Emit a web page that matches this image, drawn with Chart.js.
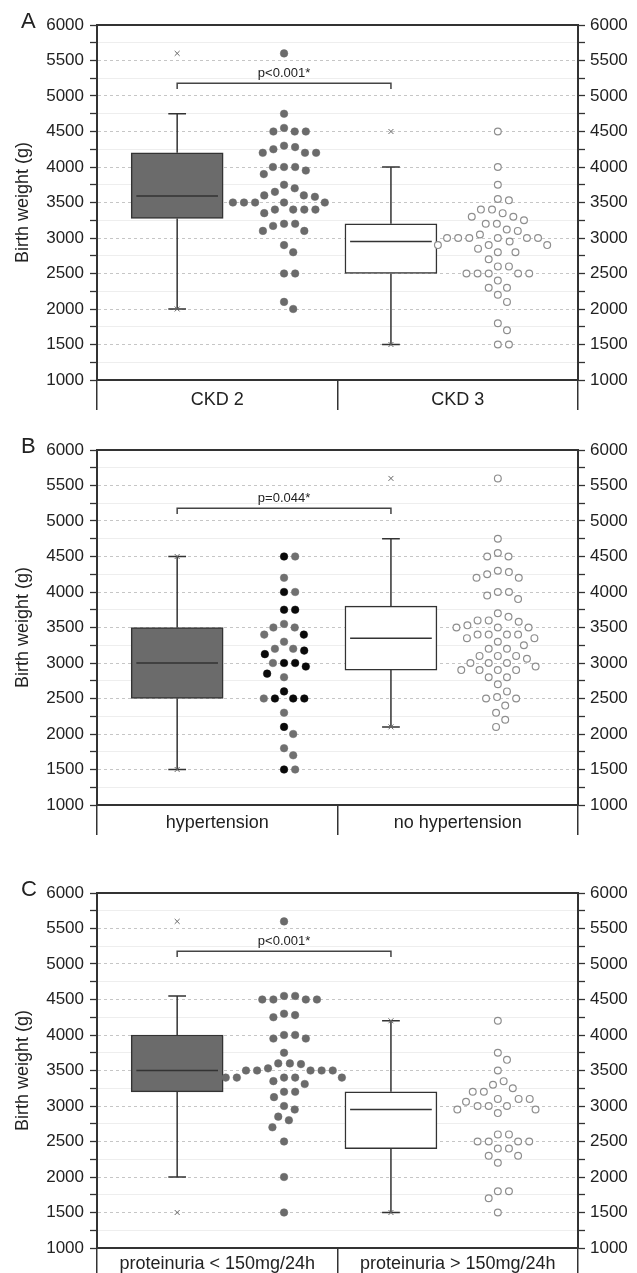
<!DOCTYPE html>
<html>
<head>
<meta charset="utf-8">
<script src="https://cdn.jsdelivr.net/npm/chart.js@4.4.0/dist/chart.umd.min.js"></script>
<style>
  html, body { margin: 0; padding: 0; background: #fff; }
  body { width: 637px; height: 1273px; position: relative; overflow: hidden; }
  canvas { position: absolute; left: 0; }
</style>
</head>
<body>
<canvas id="chartA" width="637" height="420" style="top:0"></canvas>
<canvas id="chartB" width="637" height="425" style="top:425px"></canvas>
<canvas id="chartC" width="637" height="414" style="top:866px"></canvas>
<script>
// ---- data ----
const yRange = [1000, 6000];
const yStep = 500;

// A: CKD stage
const categoriesA = ['CKD 2', 'CKD 3'];
const ckd2 = [5600, 4750, 4500, 4500, 4550, 4500, 4280, 4200, 4250, 4200, 4200, 4300,
  4000, 4000, 3900, 3950, 4000, 3650, 3500, 3400, 3400, 3580, 3350, 3500, 3600, 3500,
  3400, 3600, 3700, 3400, 3750, 3500, 3500, 3100, 3200, 3200, 3170, 3100, 2800, 2900,
  2500, 2500, 2000, 2100];
const ckd3 = [4500, 4000, 3750, 3550, 3530, 3350, 3400, 3400, 3200, 3200, 3300, 3300,
  3250, 3120, 3100, 3050, 3000, 3000, 3000, 3000, 3000, 3000, 2900, 2900, 2950, 2900,
  2850, 2800, 2800, 2700, 2600, 2600, 2500, 2500, 2500, 2500, 2500, 2400, 2300, 2300,
  2200, 2100, 1800, 1700, 1500, 1500];
// box: [lower whisker, Q1, median, Q3, upper whisker]
const ckd2Box = [2000, 3275, 3590, 4200, 4750];
const ckd3Box = [1500, 2500, 2950, 3200, 4000];
const ckd2MinMax = [2000, 5600];
const ckd3MinMax = [1500, 4500];
const pValueA = 'p<0.001*';

// B: hypertension
const categoriesB = ['hypertension', 'no hypertension'];
const hypertensionBlack = [4500, 4000, 3750, 3750, 3400, 3175, 3125, 3000, 3000, 2950,
  2850, 2600, 2500, 2500, 2500, 2100, 1500];
const hypertensionGray = [4500, 4200, 4000, 3550, 3500, 3500, 3400, 3300, 3200, 3200,
  3000, 2800, 2500, 2300, 2000, 1800, 1700, 1500];
const noHypertension = [5600, 4750, 4550, 4500, 4500, 4200, 4200, 4280, 4300, 4250,
  4000, 4000, 3950, 3900, 3700, 3600, 3650, 3600, 3580, 3530, 3500, 3500, 3500, 3400,
  3400, 3400, 3400, 3300, 3350, 3350, 3250, 3200, 3200, 3100, 3100, 3100, 3060, 3000,
  3000, 3000, 2900, 2900, 2950, 2900, 2900, 2800, 2800, 2700, 2600, 2500, 2520, 2500,
  2400, 2300, 2200, 2100];
const hypBox = [1500, 2500, 3000, 3500, 4500];
const noHypBox = [2100, 2900, 3350, 3800, 4750];
const hypMinMax = [1500, 4500];
const noHypMinMax = [2100, 5600];
const pValueB = 'p=0.044*';

// C: proteinuria
const categoriesC = ['proteinuria < 150mg/24h', 'proteinuria > 150mg/24h'];
const protLow = [5600, 4500, 4500, 4500, 4550, 4550, 4500, 4250, 4300, 4280, 4000, 4000,
  3950, 3950, 3750, 3600, 3600, 3590, 3500, 3500, 3500, 3500, 3500, 3530, 3400, 3350,
  3400, 3400, 3400, 3400, 3310, 3125, 3200, 3200, 3000, 2950, 2800, 2850, 2700, 2500,
  2000, 1500];
const protHigh = [4200, 3750, 3650, 3500, 3350, 3250, 3300, 3200, 3200, 3100, 3100, 3100,
  3060, 3000, 3000, 3000, 2950, 2950, 2900, 2600, 2600, 2500, 2500, 2500, 2500, 2400,
  2400, 2300, 2300, 2200, 1800, 1800, 1700, 1500];
const protLowBox = [2000, 3200, 3500, 4000, 4550];
const protHighBox = [1500, 2400, 2950, 3200, 4200];
const protLowMinMax = [1500, 5600];
const protHighMinMax = [1500, 4200];
const pValueC = 'p<0.001*';

// ---- styling ----
const FONT = '"Liberation Sans", Arial, Helvetica, sans-serif';
const INK = '#222';
const AXIS = '#333';
const DARK = '#6b6b6b';
const PX_PER_X = 481 / 4;      // plot width / x units
const PX_PER_G = 355 / 5000;   // plot height / gram range
const DOT_GAP = 12.5;
const CAP = 0.083, HALF = 0.382;

// simple beeswarm: offsets points sideways so they do not overlap
function swarm(values, centre) {
  const order = values.map((v, i) => i).sort((a, b) => values[b] - values[a]);
  const placed = [];
  const out = [];
  for (const i of order) {
    const py = values[i] * PX_PER_G;
    const near = placed.filter(p => Math.abs(p.y - py) < DOT_GAP);
    const cands = [0];
    near.forEach(p => {
      const dx = Math.sqrt(DOT_GAP * DOT_GAP - (p.y - py) ** 2);
      cands.push(p.x + dx, p.x - dx);
    });
    cands.sort((a, b) => Math.abs(a) - Math.abs(b));
    const px = cands.find(c => near.every(p => (p.x - c) ** 2 + (p.y - py) ** 2 >= DOT_GAP * DOT_GAP - 0.01));
    placed.push({x: px, y: py});
    out[i] = {x: centre + px / PX_PER_X, y: values[i]};
  }
  return out;
}

const panelText = {
  id: 'panelText',
  afterDraw(chart, args, o) {
    const {ctx, chartArea, scales} = chart;
    ctx.save();
    ctx.fillStyle = INK;
    ctx.font = '13px ' + FONT;
    ctx.textAlign = 'center';
    ctx.textBaseline = 'alphabetic';
    ctx.fillText(o.p, scales.x.getPixelForValue(1.5), scales.y.getPixelForValue(5265));
    ctx.font = '22px ' + FONT;
    ctx.textAlign = 'left';
    ctx.fillText(o.letter, 21, chartArea.top + 3);
    ctx.restore();
  }
};

function yAxis(position, withTitle) {
  return {
    type: 'linear', position, min: yRange[0], max: yRange[1],
    ticks: {
      stepSize: yStep / 2, autoSkip: false, color: INK, padding: position === 'left' ? 6 : 5,
      font: {family: FONT, size: 17},
      callback: v => (v % yStep === 0 ? String(v) : '')
    },
    grid: {
      drawOnChartArea: position === 'left',
      color: c => (c.tick && c.tick.value % yStep === 0 ? '#c6c6c6' : '#eeeeee'),
      lineWidth: 1, tickColor: AXIS, tickWidth: 1.3, tickLength: 7
    },
    border: {
      color: AXIS, width: 2,
      dash: c => (c.tick && c.tick.value % yStep === 0 ? [3, 3] : [])
    },
    title: {
      display: withTitle, text: 'Birth weight (g)', color: INK,
      font: {family: FONT, size: 18}, padding: {top: 4, bottom: 4}
    },
    afterFit: s => { s.width = position === 'left' ? 89 : 59; }
  };
}

function buildChart(id, p) {
  const centres = [0.5, 2.5];
  const boxes = [p.boxes[0], p.boxes[1]];
  const segs = [];
  boxes.forEach((b, i) => {
    const c = centres[i];
    segs.push({x: c, y: b[3]}, {x: c, y: b[4]}, {x: c, y: null},
      {x: c - CAP, y: b[4]}, {x: c + CAP, y: b[4]}, {x: c, y: null},
      {x: c, y: b[1]}, {x: c, y: b[0]}, {x: c, y: null},
      {x: c - CAP, y: b[0]}, {x: c + CAP, y: b[0]}, {x: c, y: null},
      {x: c - HALF, y: b[2]}, {x: c + HALF, y: b[2]}, {x: c, y: null});
  });
  const marks = [];
  p.minMax.forEach((m, i) => m.forEach(v => marks.push({x: centres[i], y: v})));

  const datasets = [
    {type: 'bar', order: 5, data: boxes.map((b, i) => ({x: centres[i], y: [b[1], b[3]]})),
      backgroundColor: [DARK, '#ffffff'], borderColor: AXIS, borderWidth: 1.5,
      borderSkipped: false, barThickness: 92},
    {type: 'line', order: 4, data: segs, borderColor: AXIS, borderWidth: 1.5,
      pointRadius: 0, spanGaps: false, fill: false},
    {type: 'line', order: 4, data: [{x: 0.5, y: 5100}, {x: 0.5, y: 5180}, {x: 2.5, y: 5180}, {x: 2.5, y: 5100}],
      borderColor: '#444', borderWidth: 1.5, pointRadius: 0, fill: false},
    {type: 'scatter', order: 3, data: marks, pointStyle: 'crossRot', pointRadius: 3.5,
      borderColor: '#666', borderWidth: 1, backgroundColor: '#666'}
  ];
  p.dots.forEach(d => datasets.push(Object.assign({type: 'scatter', order: 1}, d)));

  return new Chart(document.getElementById(id), {
    type: 'scatter',
    data: {datasets},
    plugins: [panelText],
    options: {
      responsive: false,
      animation: false,
      events: [],
      layout: {padding: {left: 8, right: 0, top: p.padTop, bottom: p.padBottom}},
      plugins: {legend: {display: false}, tooltip: {enabled: false},
        panelText: {letter: p.letter, p: p.pValue}},
      scales: {
        x: {type: 'linear', min: 0, max: 4, display: false},
        xt: {type: 'linear', position: 'top', min: 0, max: 4,
          grid: {display: false}, ticks: {display: false},
          border: {color: AXIS, width: 2}, afterFit: s => { s.height = 0; }},
        xc: {type: 'category', labels: p.categories, position: 'bottom', offset: true,
          grid: {offset: true, drawOnChartArea: false, tickLength: 30, color: AXIS, lineWidth: 1.5},
          border: {color: AXIS, width: 2},
          ticks: {color: INK, font: {family: FONT, size: 18}, padding: p.labelPad},
          afterFit: s => { s.height = 32; }},
        y: yAxis('left', true),
        y2: yAxis('right', false)
      }
    }
  });
}

const filled = col => ({pointRadius: 3.8, backgroundColor: col, borderColor: col, borderWidth: 0.5});
const open = {pointRadius: 3.4, backgroundColor: '#ffffff', borderColor: '#8e8e8e', borderWidth: 1.2};

buildChart('chartA', {
  letter: 'A', pValue: pValueA, categories: categoriesA, padTop: 25, padBottom: 8, labelPad: -21,
  boxes: [ckd2Box, ckd3Box], minMax: [ckd2MinMax, ckd3MinMax],
  dots: [
    Object.assign({data: swarm(ckd2, 1.5)}, filled(DARK)),
    Object.assign({data: swarm(ckd3, 3.5)}, open)
  ]
});

// hypertension: one swarm for both subgroups, then split by colour
const hypAll = hypertensionBlack.concat(hypertensionGray);
const hypPts = swarm(hypAll, 1.5);
buildChart('chartB', {
  letter: 'B', pValue: pValueB, categories: categoriesB, padTop: 25, padBottom: 13, labelPad: -23,
  boxes: [hypBox, noHypBox], minMax: [hypMinMax, noHypMinMax],
  dots: [
    Object.assign({data: hypPts.slice(hypertensionBlack.length)}, filled('#707070')),
    Object.assign({data: hypPts.slice(0, hypertensionBlack.length)}, filled('#0a0a0a')),
    Object.assign({data: swarm(noHypertension, 3.5)}, open)
  ]
});

buildChart('chartC', {
  letter: 'C', pValue: pValueC, categories: categoriesC, padTop: 27, padBottom: 0, labelPad: -25,
  boxes: [protLowBox, protHighBox], minMax: [protLowMinMax, protHighMinMax],
  dots: [
    Object.assign({data: swarm(protLow, 1.5)}, filled(DARK)),
    Object.assign({data: swarm(protHigh, 3.5)}, open)
  ]
});
</script>
</body>
</html>
